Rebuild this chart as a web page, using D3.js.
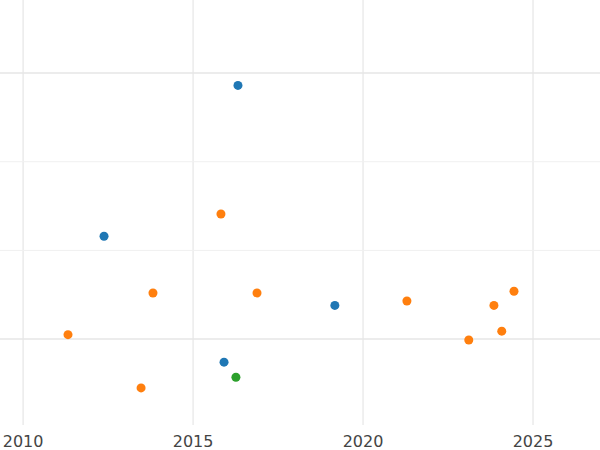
<!DOCTYPE html>
<html><head><meta charset="utf-8">
<script src="https://cdn.jsdelivr.net/npm/d3@7"></script>
<style>body{margin:0;background:#fff}</style></head>
<body><svg id="c" width="600" height="450"></svg>
<script>
const seriesNames = ["A","B","C"];
const colors = ["#1f77b4","#ff7f0e","#2ca02c"];
const xA = [2016.32,2012.38,2019.17,2015.91];
const yA = [2.86,1.16,0.38,-0.26];
const xB = [2015.82,2013.82,2016.88,2011.32,2013.47,2021.29,2023.85,2024.44,2024.08,2023.11];
const yB = [1.41,0.52,0.52,0.05,-0.55,0.43,0.38,0.54,0.09,-0.01];
const xC = [2016.26];
const yC = [-0.43];
const xTicks = [2010,2015,2020,2025];
const yMajor = [0,3];
const yMinor = [1,2];

const svg = d3.select("#c");
const x = d3.scaleLinear().domain([2009.32, 2026.97]).range([0,600]);
const y = d3.scaleLinear().domain([-1.25, 3.823]).range([450,0]);

svg.selectAll(".vg").data(xTicks).join("line")
  .attr("x1",d=>x(d)).attr("x2",d=>x(d)).attr("y1",0).attr("y2",425)
  .attr("stroke","#ebebeb").attr("stroke-width",1.5);
svg.selectAll(".hm").data(yMinor).join("line")
  .attr("x1",0).attr("x2",600).attr("y1",d=>y(d)).attr("y2",d=>y(d))
  .attr("stroke","#f0f0f0").attr("stroke-width",1);
svg.selectAll(".hM").data(yMajor).join("line")
  .attr("x1",0).attr("x2",600).attr("y1",d=>y(d)).attr("y2",d=>y(d))
  .attr("stroke","#e6e6e6").attr("stroke-width",1.5);

svg.selectAll(".xt").data(xTicks).join("text")
  .attr("x",d=>x(d)).attr("y",447).attr("text-anchor","middle")
  .attr("font-family","DejaVu Sans").attr("font-size",16).attr("fill","#444")
  .text(d=>d);

const series = [[xA,yA],[xB,yB],[xC,yC]];
series.forEach((s,i)=>{
  svg.append("g").selectAll("circle").data(s[0].map((v,j)=>[v,s[1][j]])).join("circle")
    .attr("cx",d=>x(d[0])).attr("cy",d=>y(d[1])).attr("r",4.5).attr("fill",colors[i]);
});
</script></body></html>
